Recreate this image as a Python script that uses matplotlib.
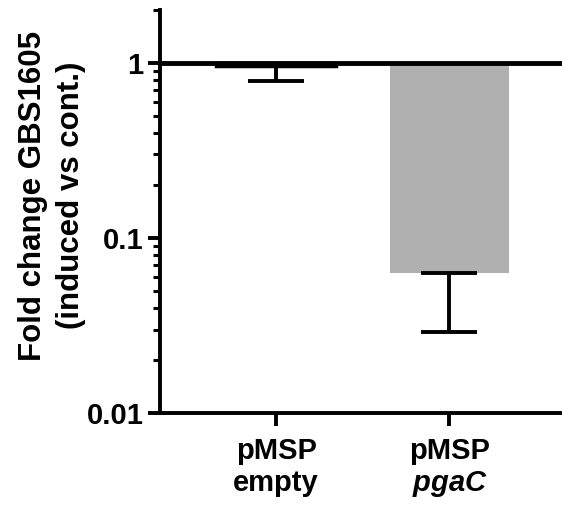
import matplotlib.pyplot as plt
from matplotlib.ticker import LogLocator, NullFormatter, FixedLocator

plt.rcParams['font.family'] = ['Liberation Sans', 'DejaVu Sans']
plt.rcParams['font.weight'] = 'bold'
plt.rcParams['mathtext.fontset'] = 'custom'
plt.rcParams['mathtext.bfit'] = 'Liberation Sans:bold:italic'

# --- datos ---
groups = ["pMSP\nempty", "pMSP\n$\\mathbfit{pgaC}$"]
fold_change = [0.955, 0.063]
err_low = [0.79, 0.029]
bar_faces = ["white", "#b0b0b0"]
bar_edges = ["black", "none"]
y_ticks = [0.01, 0.1, 1]
y_ticklabels = ["0.01", "0.1", "1"]

fig = plt.figure(figsize=(5.62, 5.05), dpi=100)
ax = fig.add_axes([0.285, 0.182, 0.715, 0.798])

x = list(range(len(groups)))
ax.set_yscale('log')
ax.set_ylim(0.01, 2)
ax.set_xlim(-0.67, 1.65)

# barras que cuelgan desde 1 (sin cambio)
for i, v in enumerate(fold_change):
    ax.bar(x[i], v - 1, bottom=1, width=0.69, color=bar_faces[i],
           edgecolor=bar_edges[i], linewidth=2.5, zorder=2)
    ax.errorbar(x[i], v, yerr=[[v - err_low[i]], [0]], fmt='none',
                ecolor='black', elinewidth=2.8, capsize=20, capthick=2.8, zorder=3)

ax.axhline(1, color='black', lw=3.5, zorder=4)

ax.spines['top'].set_visible(False)
ax.spines['right'].set_visible(False)
ax.spines['left'].set_linewidth(2.8)
ax.spines['bottom'].set_linewidth(2.8)

ax.yaxis.set_major_locator(FixedLocator(y_ticks))
ax.set_yticklabels(y_ticklabels)
ax.yaxis.set_minor_locator(LogLocator(base=10, subs=range(2, 10)))
ax.yaxis.set_minor_formatter(NullFormatter())
ax.tick_params(axis='y', which='major', length=9, width=2.8, labelsize=21, pad=3)
ax.tick_params(axis='y', which='minor', length=5, width=2.2)

ax.set_xticks(x)
ax.set_xticklabels(groups)
ax.tick_params(axis='x', length=9, width=2.8, labelsize=21, pad=8)
for lbl in ax.get_xticklabels():
    lbl.set_linespacing(1.2)

ax.set_ylabel("Fold change GBS1605\n(induced vs cont.)", fontsize=22.5,
              fontweight='bold', linespacing=1.35)
ax.yaxis.set_label_coords(-0.185, 0.54)

fig.savefig("out.png", dpi=100)
